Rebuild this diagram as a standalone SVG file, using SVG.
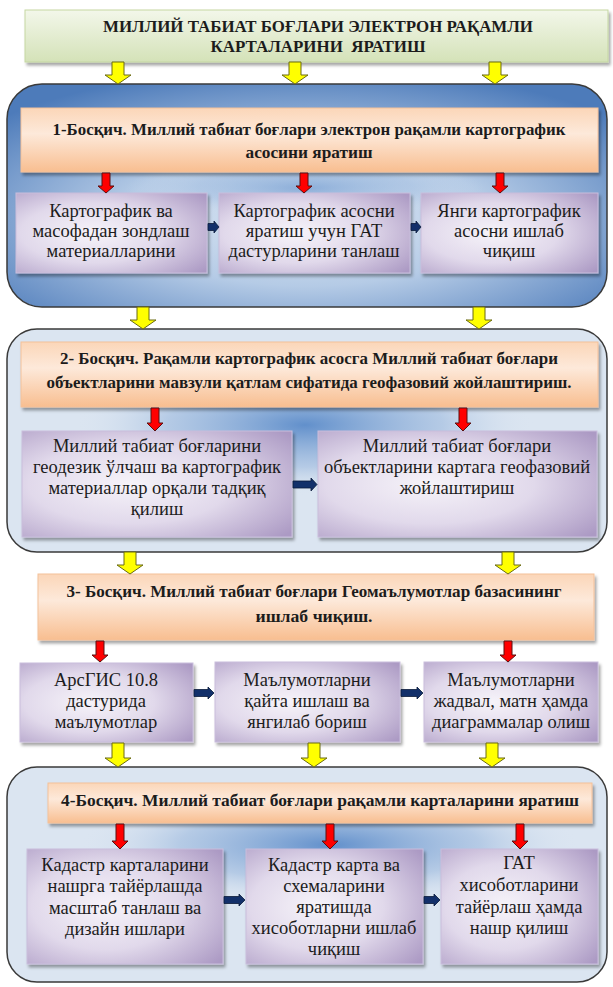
<svg xmlns="http://www.w3.org/2000/svg" width="613" height="987" viewBox="0 0 613 987">
<style>
.h{font-weight:bold;font-size:16.5px;fill:#1c1c1c;text-anchor:middle}
.t{font-size:18.5px;fill:#1c1c1c;text-anchor:middle}
.cont{stroke:#3a3a3a;stroke-width:1.5}
.hdr{fill:url(#orange);stroke:#f4c19a;stroke-width:1;filter:url(#sh)}
.box{fill:url(#purple);stroke:#c9bedc;stroke-width:1;filter:url(#sh)}
.ya{fill:#ffff00;stroke:#6b6b10;stroke-width:1}
.ra{fill:#ff0000;stroke:#5a1010;stroke-width:1}
.na{fill:#12306a;stroke:#0a1a3a;stroke-width:0.8}
</style>
<defs>
<filter id="sh" x="-5%" y="-10%" width="115%" height="130%">
<feDropShadow dx="2" dy="3" stdDeviation="1.5" flood-color="#000" flood-opacity="0.35"/>
</filter>
<linearGradient id="green" x1="0" y1="0" x2="0" y2="1">
<stop offset="0" stop-color="#f3f7ea"/>
<stop offset="1" stop-color="#d4e2b8"/>
</linearGradient>
<linearGradient id="orange" x1="0" y1="0" x2="0" y2="1">
<stop offset="0" stop-color="#fbd6b8"/>
<stop offset="0.4" stop-color="#fde9da"/>
<stop offset="1" stop-color="#f8be90"/>
</linearGradient>
<radialGradient id="purple" cx="0.4" cy="0.5" r="0.75">
<stop offset="0" stop-color="#f6f3f9"/>
<stop offset="0.5" stop-color="#e1d9eb"/>
<stop offset="1" stop-color="#ac9ac4"/>
</radialGradient>
<radialGradient id="c1" cx="0.5" cy="0.6" r="0.68">
<stop offset="0" stop-color="#dce7f3"/>
<stop offset="0.45" stop-color="#b5cbe6"/>
<stop offset="1" stop-color="#4d7bba"/>
</radialGradient>
<radialGradient id="glow" cx="0.5" cy="0.5" r="0.5">
<stop offset="0" stop-color="#5b8bc9" stop-opacity="0.95"/>
<stop offset="0.6" stop-color="#8fb0da" stop-opacity="0.5"/>
<stop offset="1" stop-color="#dbe5f1" stop-opacity="0"/>
</radialGradient>
<clipPath id="cp2"><rect x="7" y="329" width="600" height="223" rx="30"/></clipPath>
<clipPath id="cp4"><rect x="7" y="767" width="600" height="215" rx="30"/></clipPath>
</defs>

<g font-family="Liberation Serif, Times New Roman, serif">
<g id="title">
<rect x="25" y="10" width="583" height="52" fill="url(#green)" stroke="#c5d7a2" filter="url(#sh)"/>
<text class="h" x="318" y="32" textLength="430" lengthAdjust="spacingAndGlyphs">МИЛЛИЙ ТАБИАТ БОҒЛАРИ ЭЛЕКТРОН РАҚАМЛИ</text>
<text class="h" x="318" y="52" xml:space="preserve" textLength="215" lengthAdjust="spacingAndGlyphs">КАРТАЛАРИНИ  ЯРАТИШ</text>
</g>

<g id="stage1">
<rect class="cont" x="7" y="84" width="600" height="223" rx="35" fill="url(#c1)"/>
<ellipse cx="305" cy="188" rx="180" ry="30" fill="url(#glow)" opacity="0.6"/>
<g id="s1-header">
<rect class="hdr" x="21" y="108" width="577" height="64"/>
<text class="h" x="309" y="135" textLength="513" lengthAdjust="spacingAndGlyphs">1-Босқич. Миллий табиат боғлари электрон рақамли картографик</text>
<text class="h" x="309" y="158" textLength="127" lengthAdjust="spacingAndGlyphs">асосини яратиш</text>
</g>
<g id="s1-b1">
<rect class="box" x="16" y="193" width="191" height="80"/>
<text class="t" x="111" y="217">Картографик ва</text>
<text class="t" x="111" y="237">масофадан зондлаш</text>
<text class="t" x="111" y="257">материалларини</text>
</g>
<g id="s1-b2">
<rect class="box" x="219" y="193" width="191" height="80"/>
<text class="t" x="314" y="217">Картографик асосни</text>
<text class="t" x="314" y="237">яратиш учун ГАТ</text>
<text class="t" x="314" y="257">дастурларини танлаш</text>
</g>
<g id="s1-b3">
<rect class="box" x="421" y="193" width="177" height="80"/>
<text class="t" x="509" y="217">Янги картографик</text>
<text class="t" x="509" y="237">асосни ишлаб</text>
<text class="t" x="509" y="257">чиқиш</text>
</g>
</g>

<g id="stage2">
<rect class="cont" x="7" y="329" width="600" height="223" rx="30" fill="#dbe5f1"/>
<ellipse cx="305" cy="425" rx="230" ry="70" fill="url(#glow)" clip-path="url(#cp2)"/>
<g id="s2-header">
<rect class="hdr" x="21" y="342" width="577" height="65"/>
<text class="h" x="309" y="364" textLength="498" lengthAdjust="spacingAndGlyphs">2- Босқич. Рақамли картографик асосга Миллий табиат боғлари</text>
<text class="h" x="309" y="388" textLength="525" lengthAdjust="spacingAndGlyphs">объектларини мавзули қатлам сифатида геофазовий жойлаштириш.</text>
</g>
<g id="s2-b1">
<rect class="box" x="22" y="431" width="270" height="106"/>
<text class="t" x="157" y="452">Миллий табиат боғларини</text>
<text class="t" x="157" y="473">геодезик ўлчаш ва картографик</text>
<text class="t" x="157" y="494">материаллар орқали тадқиқ</text>
<text class="t" x="157" y="515">қилиш</text>
</g>
<g id="s2-b2">
<rect class="box" x="318" y="431" width="279" height="106"/>
<text class="t" x="457" y="452">Миллий табиат боғлари</text>
<text class="t" x="457" y="473">объектларини картага геофазовий</text>
<text class="t" x="457" y="494">жойлаштириш</text>
</g>
</g>

<g id="stage3">
<g id="s3-header">
<rect class="hdr" x="38" y="574" width="556" height="66"/>
<text class="h" x="314" y="597" textLength="495" lengthAdjust="spacingAndGlyphs">3- Босқич. Миллий табиат боғлари Геомаълумотлар базасининг</text>
<text class="h" x="314" y="622" textLength="117" lengthAdjust="spacingAndGlyphs">ишлаб чиқиш.</text>
</g>
<g id="s3-b1">
<rect class="box" x="20" y="663" width="173" height="79"/>
<text class="t" x="106" y="686">АрсГИС 10.8</text>
<text class="t" x="106" y="707">дастурида</text>
<text class="t" x="106" y="728">маълумотлар</text>
</g>
<g id="s3-b2">
<rect class="box" x="215" y="662" width="185" height="80"/>
<text class="t" x="307" y="686">Маълумотларни</text>
<text class="t" x="307" y="707">қайта ишлаш ва</text>
<text class="t" x="307" y="728">янгилаб бориш</text>
</g>
<g id="s3-b3">
<rect class="box" x="424" y="662" width="174" height="80"/>
<text class="t" x="511" y="686">Маълумотларни</text>
<text class="t" x="511" y="707">жадвал, матн ҳамда</text>
<text class="t" x="511" y="728">диаграммалар олиш</text>
</g>
</g>

<g id="stage4">
<rect class="cont" x="7" y="767" width="600" height="215" rx="30" fill="#dbe5f1"/>
<ellipse cx="330" cy="845" rx="250" ry="60" fill="url(#glow)" clip-path="url(#cp4)"/>
<g id="s4-header">
<rect class="hdr" x="48" y="783" width="544" height="40"/>
<text class="h" x="320" y="806" textLength="518" lengthAdjust="spacingAndGlyphs">4-Босқич. Миллий табиат боғлари рақамли карталарини яратиш</text>
</g>
<g id="s4-b1">
<rect class="box" x="27" y="849" width="196" height="115"/>
<text class="t" x="125" y="871">Кадастр карталарини</text>
<text class="t" x="125" y="892">нашрга тайёрлашда</text>
<text class="t" x="125" y="914">масштаб танлаш ва</text>
<text class="t" x="125" y="935">дизайн ишлари</text>
</g>
<g id="s4-b2">
<rect class="box" x="246" y="849" width="177" height="115"/>
<text class="t" x="334" y="871">Кадастр карта ва</text>
<text class="t" x="334" y="892">схемаларини</text>
<text class="t" x="334" y="913">яратишда</text>
<text class="t" x="334" y="934">хисоботларни ишлаб</text>
<text class="t" x="334" y="955">чиқиш</text>
</g>
<g id="s4-b3">
<rect class="box" x="441" y="849" width="157" height="115"/>
<text class="t" x="519" y="869">ГАТ</text>
<text class="t" x="519" y="891">хисоботларини</text>
<text class="t" x="519" y="913">тайёрлаш ҳамда</text>
<text class="t" x="519" y="934">нашр қилиш</text>
</g>
</g>
</g>

<g id="connectors">
<path class="ya" d="M112 62H124V75H131L118 84L105 75H112Z"/>
<path class="ya" d="M289 62H301V75H308L295 84L282 75H289Z"/>
<path class="ya" d="M489 62H501V75H508L495 84L482 75H489Z"/>
<path class="ya" d="M137 307H149V320H156L143 329L130 320H137Z"/>
<path class="ya" d="M473 307H485V320H492L479 329L466 320H473Z"/>
<path class="ya" d="M124 552H136V565H143L130 574L117 565H124Z"/>
<path class="ya" d="M502 552H514V565H521L508 574L495 565H502Z"/>
<path class="ya" d="M112 743H124V758H131L118 767L105 758H112Z"/>
<path class="ya" d="M308 743H320V758H327L314 767L301 758H308Z"/>
<path class="ya" d="M486 743H498V758H505L492 767L479 758H486Z"/>

<path class="ra" d="M102 173H110V186H114L106 193L98 186H102Z"/>
<path class="ra" d="M300 173H308V186H312L304 193L296 186H300Z"/>
<path class="ra" d="M496 173H504V186H508L500 193L492 186H496Z"/>
<path class="ra" d="M151 408H159V423H163L155 431L147 423H151Z"/>
<path class="ra" d="M459 408H467V423H471L463 431L455 423H459Z"/>
<path class="ra" d="M96 641H104V655H108L100 662L92 655H96Z"/>
<path class="ra" d="M504 641H512V655H516L508 662L500 655H504Z"/>
<path class="ra" d="M116 824H124V841H128L120 849L112 841H116Z"/>
<path class="ra" d="M326 824H334V841H338L330 849L322 841H326Z"/>
<path class="ra" d="M516 824H524V841H528L520 849L512 841H516Z"/>

<path class="na" d="M208 223.5H214V221L219 227L214 233V230.5H208Z"/>
<path class="na" d="M411 223.5H416V221L421 227L416 233V230.5H411Z"/>
<path class="na" d="M293 481H311V478L317 484.5L311 491V488H293Z"/>
<path class="na" d="M194 689.5H208V687L214 693L208 699V696.5H194Z"/>
<path class="na" d="M401 689.5H417V687L423 693L417 699V696.5H401Z"/>
<path class="na" d="M224 896.5H239V894L245 900L239 906V903.5H224Z"/>
<path class="na" d="M424 896.5H434V894L440 900L434 906V903.5H424Z"/>
</g>
</svg>
